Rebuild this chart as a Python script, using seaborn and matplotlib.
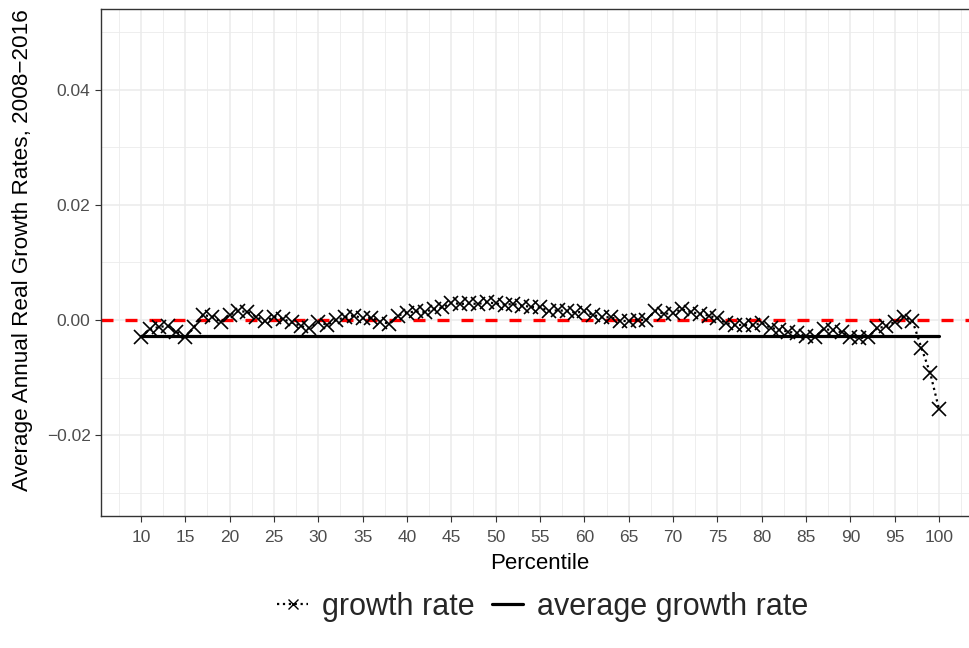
import numpy as np
import pandas as pd
import matplotlib
matplotlib.use("Agg")
import matplotlib.pyplot as plt
import seaborn as sns
from matplotlib.lines import Line2D

# ---- data ----
percentiles = list(range(10, 101))
growth_rate = [
    -0.0029, -0.0016, -0.0012, -0.0010, -0.0020, -0.0030, -0.0012, 0.0009, 0.0006, -0.0003,   # 10-19
    0.0009, 0.0016, 0.0014, 0.0006, -0.0002, 0.0006, 0.0002, -0.0004, -0.0010, -0.0014,      # 20-29
    -0.0004, -0.0008, 0.0000, 0.0005, 0.0008, 0.0003, 0.0004, -0.0003, -0.0006, 0.0008,      # 30-39
    0.0013, 0.0015, 0.0014, 0.0019, 0.0022, 0.0030, 0.0028, 0.0029, 0.0028, 0.0031,          # 40-49
    0.0029, 0.0027, 0.0028, 0.0025, 0.0023, 0.0022, 0.0016, 0.0017, 0.0016, 0.0013,          # 50-59
    0.0015, 0.0009, 0.0005, 0.0005, -0.0001, -0.0002, 0.0001, 0.0000, 0.0016, 0.0011,        # 60-69
    0.0012, 0.0019, 0.0014, 0.0011, 0.0008, 0.0003, -0.0005, -0.0009, -0.0008, -0.0009,      # 70-79
    -0.0005, -0.0013, -0.0017, -0.0020, -0.0023, -0.0028, -0.0030, -0.0015, -0.0018, -0.0021,  # 80-89
    -0.0029, -0.0031, -0.0030, -0.0014, -0.0011, -0.0003, 0.0006, -0.0001, -0.0048, -0.0092,  # 90-99
    -0.0155,                                                                                  # 100
]
avg_x = [10, 100]
avg_y = [-0.0027, -0.0027]
zero_level = 0.0

x_ticks = list(range(10, 101, 5))
y_ticks = [-0.02, 0.00, 0.02, 0.04]
y_tick_labels = ["\u22120.02", "0.00", "0.02", "0.04"]
x_label = "Percentile"
y_label = "Average Annual Real Growth Rates, 2008\u22122016"
legend_labels = ["growth rate", "average growth rate"]

df = pd.DataFrame({"percentile": percentiles, "growth": growth_rate})
df_avg = pd.DataFrame({"percentile": avg_x, "avg": avg_y})

# ---- style ----
sns.set_style("white")
plt.rcParams["font.family"] = ["Liberation Sans", "DejaVu Sans"]

fig = plt.figure(figsize=(9.69, 6.48), dpi=100)
W, H = 969, 648
px_left, px_right, px_top, px_bottom = 101, 979, 9, 516
ax = fig.add_axes([px_left / W, (H - px_bottom) / H,
                   (px_right - px_left) / W, (px_bottom - px_top) / H])

ax.set_xlim(5.5, 104.5)
ax.set_ylim(-0.034, 0.054)

# grid
ax.set_xticks(x_ticks)
ax.set_xticks([v + 2.5 for v in [5] + x_ticks], minor=True)
ax.set_yticks(y_ticks)
ax.set_yticks([-0.03, -0.01, 0.01, 0.03, 0.05], minor=True)
ax.grid(which="major", color="#EBEBEB", linewidth=1.1, zorder=0)
ax.grid(which="minor", color="#EBEBEB", linewidth=0.6, zorder=0)
ax.set_axisbelow(True)

# zero line
ax.axhline(zero_level, color="#FF0000", linewidth=2.4, linestyle=(0, (3.6, 3.6)), zorder=2)

# average line
sns.lineplot(data=df_avg, x="percentile", y="avg", ax=ax, color="black",
             linewidth=2.3, zorder=3)

# growth rate
sns.lineplot(data=df, x="percentile", y="growth", ax=ax, color="black",
             linestyle=":", linewidth=1.6, marker="x", markersize=9.5,
             markeredgewidth=1.2, markeredgecolor="black", zorder=4)

ax.set_yticklabels(y_tick_labels)
ax.tick_params(axis="both", which="major", labelsize=12.5, labelcolor="#4D4D4D",
               color="#333333", length=4, width=0.8, direction="out",
               bottom=True, left=True)
ax.tick_params(axis="x", which="major", pad=6)
ax.tick_params(which="minor", length=0)

for side, sp in ax.spines.items():
    sp.set_color("#333333")
    sp.set_linewidth(1.0)
ax.spines["right"].set_visible(False)

ax.set_xlabel(x_label, fontsize=16, color="black", labelpad=6)
ax.set_ylabel(y_label, fontsize=16.2, color="black")
ax.yaxis.set_label_coords(-0.077, 0.525)

handles = [
    Line2D([0], [0], color="black", linestyle=":", linewidth=1.6, marker="x",
           markersize=7, markeredgewidth=1.0),
    Line2D([0], [0], color="black", linestyle="-", linewidth=2.3),
]
fig.legend(handles, legend_labels, loc="center", bbox_to_anchor=(0.56, 0.064),
           ncol=2, frameon=False, fontsize=22, handlelength=1.0, numpoints=1,
           handletextpad=0.45, columnspacing=0.6)

fig.savefig("out.png", dpi=100)
